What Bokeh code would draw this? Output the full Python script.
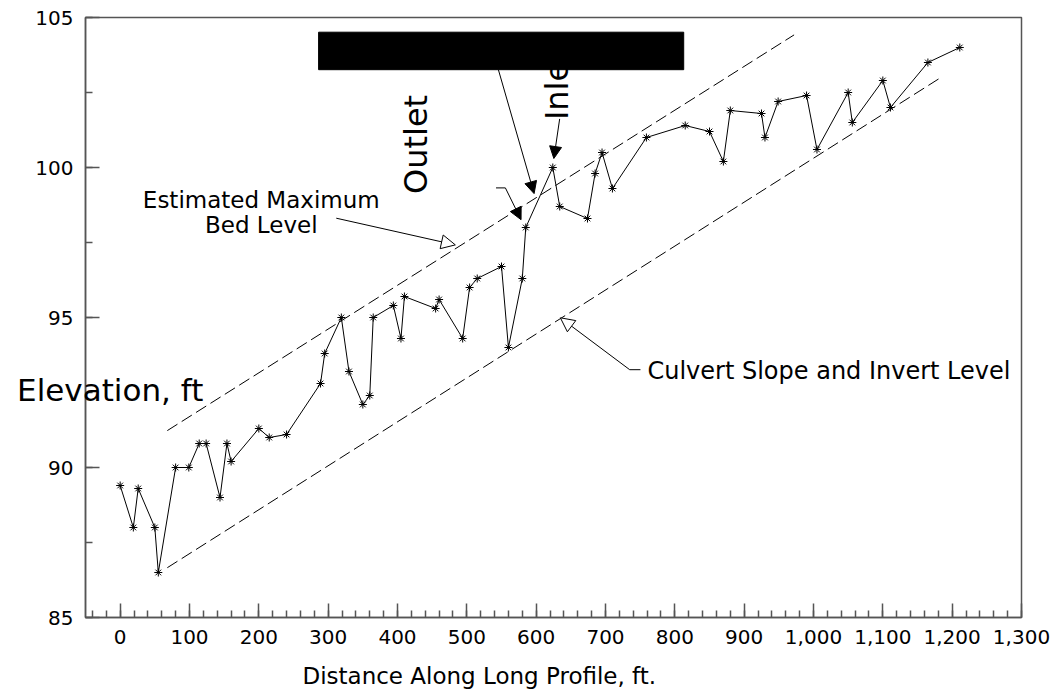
import math
from bokeh.plotting import figure
from bokeh.models import (Range1d, FixedTicker, NumeralTickFormatter, Label, Arrow,
                          NormalHead, BoxAnnotation, LinearAxis)
from bokeh.embed import file_html
from bokeh.resources import INLINE

# ---- data ----
distance = [0, 19, 26, 50, 55, 80, 99, 114, 124, 144, 154, 160, 200, 215, 240,
            289, 295, 319, 330, 350, 360, 365, 394, 405, 410, 455, 460, 494, 504, 515,
            550, 560, 580, 585, 624, 634, 674, 685, 695, 710, 759, 815, 850, 870, 880,
            925, 930, 949, 990, 1005, 1050, 1056, 1100, 1111, 1165, 1211]
elevation = [89.4, 88.0, 89.3, 88.0, 86.5, 90.0, 90.0, 90.8, 90.8, 89.0, 90.8, 90.2, 91.3, 91.0, 91.1,
             92.8, 93.8, 95.0, 93.2, 92.1, 92.4, 95.0, 95.4, 94.3, 95.7, 95.3, 95.6, 94.3, 96.0, 96.3,
             96.7, 94.0, 96.3, 98.0, 100.0, 98.7, 98.3, 99.8, 100.5, 99.3, 101.0, 101.4, 101.2, 100.2, 101.9,
             101.8, 101.0, 102.2, 102.4, 100.6, 102.5, 101.5, 102.9, 102.0, 103.5, 104.0]

max_bed_x = [68, 972]
max_bed_y = [91.23, 104.42]
culvert_x = [68, 1181]
culvert_y = [86.66, 102.96]

x_ticks = list(range(0, 1301, 100))
x_minor = list(range(-40, 1301, 20))
y_ticks = [85, 90, 95, 100, 105]
y_minor = [85 + 2.5 * i for i in range(9)]

x_title = "Distance Along Long Profile, ft."
x_title_at = 518          # data x where the x title is centred
y_title = "Elevation, ft"

# annotation geometry (data units)
redact_box = dict(left=286.2, right=812.8, bottom=103.26, top=104.51)
arrow_box = (545.5, 103.26, 597.0, 99.13)
outlet_kink = ([542.1, 555.6], [99.32, 99.32])
arrow_outlet = (555.6, 99.32, 578.2, 98.26)
arrow_inlet = (633.9, 101.62, 625.5, 100.30)
arrow_bed = (311.7, 98.31, 483.4, 97.42)
culvert_kink = ([734.9, 750.4], [93.26, 93.26])
arrow_culvert = (734.9, 93.26, 634.9, 94.99)

FONT = "DejaVu Sans"
AX = "#555555"

p = figure(width=1050, height=692, x_range=Range1d(-50, 1300), y_range=Range1d(85, 105),
           output_backend="svg", toolbar_location=None,
           min_border_left=85, min_border_right=29, min_border_top=17, min_border_bottom=75)
p.background_fill_color = "white"
p.border_fill_color = "white"
p.outline_line_color = AX
p.outline_line_width = 1.5
p.xgrid.visible = False
p.ygrid.visible = False

for ax in (p.xaxis[0], p.yaxis[0]):
    ax.axis_line_color = AX
    ax.axis_line_width = 1.5
    ax.major_tick_line_color = AX
    ax.minor_tick_line_color = AX
    ax.major_tick_line_width = 1.5
    ax.minor_tick_line_width = 1.5
    ax.major_tick_in = 14
    ax.major_tick_out = 0
    ax.minor_tick_in = 7
    ax.minor_tick_out = 0
    ax.major_label_text_font = FONT
    ax.major_label_text_font_size = "20px"
    ax.major_label_text_color = "black"

p.xaxis.ticker = FixedTicker(ticks=x_ticks, minor_ticks=x_minor)
p.yaxis.ticker = FixedTicker(ticks=y_ticks, minor_ticks=y_minor)
p.xaxis.formatter = NumeralTickFormatter(format="0,0")
p.xaxis.major_label_standoff = 12
p.yaxis.major_label_standoff = 12

# y-axis title drawn horizontally, overlapping the axis as in the reference
p.yaxis.axis_label = "\n\n\n\n" + y_title
p.yaxis.axis_label_orientation = "horizontal"
p.yaxis.axis_label_standoff = -171
p.yaxis.axis_label_text_font = FONT
p.yaxis.axis_label_text_font_size = "31px"
p.yaxis.axis_label_text_line_height = 1.0
p.yaxis.axis_label_text_font_style = "normal"
p.yaxis.axis_label_text_color = "black"

# x-axis title: a bare extra axis whose single tick label carries the title
title_axis = LinearAxis(ticker=FixedTicker(ticks=[x_title_at]),
                        major_label_overrides={x_title_at: x_title},
                        axis_line_color=None, major_tick_line_color=None,
                        minor_tick_line_color=None, major_tick_in=0, major_tick_out=0,
                        major_label_standoff=16, major_label_text_font=FONT,
                        major_label_text_font_size="23px", major_label_text_color="black")
p.add_layout(title_axis, "below")

# dashed reference lines
p.line(max_bed_x, max_bed_y, line_color="black", line_width=1, line_dash="12 5")
p.line(culvert_x, culvert_y, line_color="black", line_width=1, line_dash="12 5")

# profile
p.line(distance, elevation, line_color="black", line_width=1)
p.scatter(distance, elevation, marker="asterisk", size=8, line_color="black", line_width=1)

# leader segments
p.line(outlet_kink[0], outlet_kink[1], line_color="black", line_width=1)
p.line(culvert_kink[0], culvert_kink[1], line_color="black", line_width=1)

def add_arrow(coords, filled):
    x0, y0, x1, y1 = coords
    head = NormalHead(size=12 if filled else 14,
                      fill_color="black" if filled else "white",
                      line_color="black", line_width=1)
    p.add_layout(Arrow(end=head, x_start=x0, y_start=y0, x_end=x1, y_end=y1,
                       line_color="black", line_width=1))

add_arrow(arrow_box, True)
add_arrow(arrow_outlet, True)
add_arrow(arrow_inlet, True)
add_arrow(arrow_bed, False)
add_arrow(arrow_culvert, False)

# texts (anchored at the middle of the text box)
p.add_layout(Label(x=203.5, y=98.91, text="Estimated Maximum", text_font=FONT,
                   text_font_size="23px", text_color="black", text_align="center",
                   text_baseline="middle"))
p.add_layout(Label(x=203.5, y=98.07, text="Bed Level", text_font=FONT,
                   text_font_size="23px", text_color="black", text_align="center",
                   text_baseline="middle"))
p.add_layout(Label(x=760.5, y=93.23, text="Culvert Slope and Invert Level", text_font=FONT,
                   text_font_size="24px", text_color="black", text_baseline="middle"))
p.add_layout(Label(x=427.1, y=100.77, text="Outlet", text_font=FONT, text_font_size="32px",
                   text_color="black", text_align="center", text_baseline="middle",
                   angle=math.pi / 2))
p.add_layout(Label(x=629.5, y=101.58, text="Inlet", text_font=FONT, text_font_size="32px",
                   text_color="black", text_align="left", text_baseline="middle",
                   angle=math.pi / 2))

# redaction box on top
p.add_layout(BoxAnnotation(fill_color="black", fill_alpha=1.0, line_color="black",
                           line_alpha=1.0, **redact_box))

open("out.html", "w").write(file_html(p, INLINE))
